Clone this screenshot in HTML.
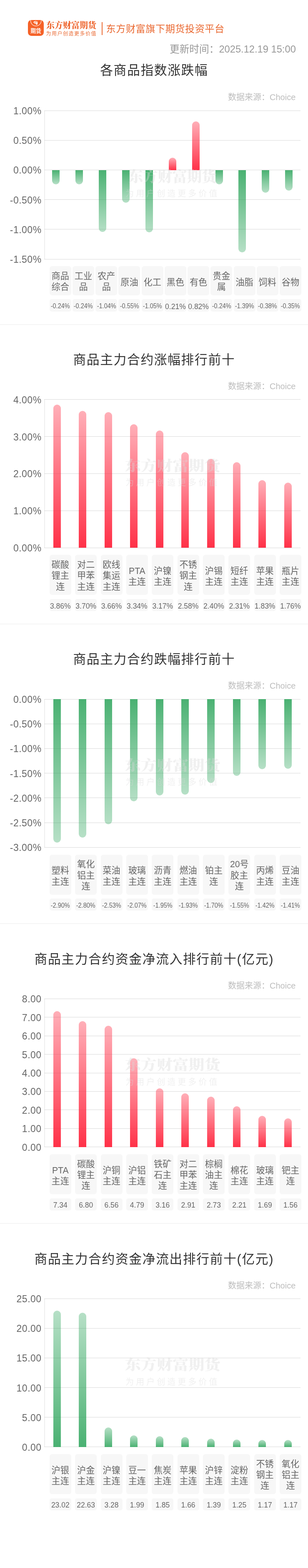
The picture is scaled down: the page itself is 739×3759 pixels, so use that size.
<!DOCTYPE html>
<html lang="zh-CN">
<head>
<meta charset="utf-8">
<title>东方财富期货 - 各商品指数涨跌幅</title>
<style>

html,body{margin:0;padding:0;background:#fff}
body{width:739px;height:3759px;overflow:hidden;font-family:"Liberation Sans","Noto Sans CJK SC",sans-serif;color:#333}
.page{position:relative;width:739px;height:3759px;overflow:hidden;background:#fff;filter:blur(.4px)}
.hv{font-family:"Liberation Serif","Noto Serif CJK SC",serif;font-weight:900}
.hdr,.sec{position:absolute;left:0;top:0;width:739px;height:0}
.icon{position:absolute}
.brand,.slogan,.platform,.upd{position:absolute;white-space:nowrap;line-height:1.2}
.brand,.slogan,.platform{color:#ea6a33}
.brand{color:#ee6a34}
.vbar{position:absolute;background:#ea6a33}
.upd{color:#999}
.title{position:absolute;left:0.3px;width:739px;margin:0;padding:0;text-align:center;font-weight:normal;line-height:1.2;color:#333;white-space:nowrap;letter-spacing:0.052em}
.src{position:absolute;white-space:nowrap;color:#bdbdbd;line-height:1.2}
.plot{position:absolute}
.yaxis{position:absolute;left:-0.4px;top:0;width:2px;height:100%;background:#eeeeee}
.grid{position:absolute;left:0;width:100%;height:1px;margin-top:-0.5px;background:#d9d9d9}
.bar{position:absolute;width:18.0px}
.bar.up{border-radius:9.0px 9.0px 0 0}
.bar.dn{border-radius:0 0 9.0px 9.0px}
.bar.up.r{background:linear-gradient(to top,rgba(255,38,62,.95),rgba(255,38,62,.37))}
.bar.dn.r{background:linear-gradient(to bottom,rgba(255,38,62,.95),rgba(255,38,62,.37))}
.bar.up.g{background:linear-gradient(to top,rgba(34,160,83,.82),rgba(34,160,83,.33))}
.bar.dn.g{background:linear-gradient(to bottom,rgba(34,160,83,.82),rgba(34,160,83,.33))}
.wm{position:absolute;left:0;width:100%;text-align:center;color:#d8d8d8;opacity:.38;line-height:1;white-space:nowrap}
.wm .sx{display:inline-block;transform:scale(1.11,1.0)}
.wm2{letter-spacing:0.25em}
.ylab{position:absolute;letter-spacing:.5px;right:639.4px;font-size:23.0px;line-height:28.0px;height:28.0px;color:#666;white-space:nowrap;text-align:right}
ul{list-style:none;margin:0;padding:0;position:absolute;left:0;width:739px}
li{position:absolute;top:0;width:52.0px;background:#f7f7f7;border-radius:6px;text-align:center;color:#666}
.names li{font-size:21.2px;line-height:26.3px;display:flex;align-items:center;justify-content:center}
.nmw{display:block;position:relative;top:2.3px}
.ln{display:block;white-space:nowrap;height:26.3px}
.vals li{height:29.4px;line-height:29.4px;white-space:nowrap;border-radius:5px}
.vals li span{display:inline-block;position:relative}
.sep{position:absolute;left:0;width:739px;height:2.0px;background:#f5f5f5}

</style>
</head>
<body>
<main class="page">
<div class="hdr">
<svg class="icon" style="left:66.8px;top:48px;width:38px;height:38px" viewBox="0 0 38 38" aria-hidden="true"><defs><clipPath id="icl"><rect x="0" y="0" width="38" height="38" rx="8.2" ry="8.2"/></clipPath></defs><rect x="0" y="0" width="38" height="38" rx="8.2" ry="8.2" fill="#f56228"/><g clip-path="url(#icl)"><circle cx="19.2" cy="1.6" r="12.7" fill="none" stroke="#fff" stroke-width="1.15" opacity="0.92"/></g><g fill="#fff"><path d="M20.6 2.0 Q16.0 2.4 13.1 4.7 Q12.8 5.9 14.6 7.0 Q16.6 3.9 20.6 2.0 Z"/><path d="M21.2 2.5 Q17.6 4.4 15.6 7.7 Q16.0 9.2 17.9 9.6 Q18.8 5.6 21.2 2.5 Z"/><path d="M21.9 2.5 Q19.7 5.8 19.0 10.0 Q20.2 11.6 22.0 11.4 Q23.7 8.6 23.0 5.4 Q22.7 3.6 21.9 2.5 Z"/></g><text transform="translate(6.2,30.6) scale(1,1.0625)" font-size="12.8" font-weight="900" fill="#fff" font-family="'Liberation Serif','Noto Serif CJK SC',serif">期货</text></svg>
<div class="brand hv" style="left:111px;top:48.6px;font-size:20px">东方财富期货</div>
<div class="slogan" style="left:110.6px;top:73.6px;font-size:12px;letter-spacing:0.125em">为用户创造更多价值</div>
<div class="vbar" style="left:244.2px;top:53px;width:1.7px;height:30.6px"></div>
<div class="platform" style="left:254.6px;top:56px;font-size:23.2px;letter-spacing:0.021em">东方财富旗下期货投资平台</div>
<div class="upd" style="right:29.2px;top:104.4px;font-size:23.7px">更新时间：<span class="updnum">2025.12.19 15:00</span></div>
</div>
<section class="sec" style="top:0">
<h2 class="title" style="top:151.1px;font-size:30.8px">各商品指数涨跌幅</h2>
<div class="src" style="right:29.7px;top:221.4px;font-size:20px">数据来源：<span class="choice">Choice</span></div>
<div class="plot" style="left:106.2px;top:265.4px;width:615.1px;height:355.7px">
<div class="yaxis"></div>
<div class="grid" style="top:0px"></div>
<div class="grid" style="top:71.14px"></div>
<div class="grid" style="top:142.28px"></div>
<div class="grid" style="top:213.42px"></div>
<div class="grid" style="top:284.56px"></div>
<div class="grid" style="top:355.7px"></div>
<div class="bar dn g" style="left:18.96px;top:142.28px;height:34.15px"></div>
<div class="bar dn g" style="left:74.88px;top:142.28px;height:34.15px"></div>
<div class="bar dn g" style="left:130.8px;top:142.28px;height:147.97px"></div>
<div class="bar dn g" style="left:186.71px;top:142.28px;height:78.25px"></div>
<div class="bar dn g" style="left:242.63px;top:142.28px;height:149.39px"></div>
<div class="bar up r" style="left:298.55px;top:112.4px;height:29.88px"></div>
<div class="bar up r" style="left:354.47px;top:25.61px;height:116.67px"></div>
<div class="bar dn g" style="left:410.39px;top:142.28px;height:34.15px"></div>
<div class="bar dn g" style="left:466.3px;top:142.28px;height:197.77px"></div>
<div class="bar dn g" style="left:522.22px;top:142.28px;height:54.07px"></div>
<div class="bar dn g" style="left:578.14px;top:142.28px;height:49.8px"></div>
<div class="wm hv" style="top:141.8px;font-size:35.2px">东方财富期货</div>
<div class="wm wm2" style="top:189px;font-size:20px">为用户创造更多价值</div>
</div>
<div class="ylab" style="top:252.2px">1.00%</div>
<div class="ylab" style="top:323.34px">0.50%</div>
<div class="ylab" style="top:394.48px">0.00%</div>
<div class="ylab" style="top:465.62px">-0.50%</div>
<div class="ylab" style="top:536.76px">-1.00%</div>
<div class="ylab" style="top:607.9px">-1.50%</div>
<ul class="names" style="top:638.1px;height:69.8px">
<li style="left:118.8px;height:69.8px"><span class="nmw" style="top:2.3px"><span class="ln">商品</span><span class="ln">综合</span></span></li>
<li style="left:174.02px;height:69.8px"><span class="nmw" style="top:2.3px"><span class="ln">工业</span><span class="ln">品</span></span></li>
<li style="left:229.24px;height:69.8px"><span class="nmw" style="top:2.3px"><span class="ln">农产</span><span class="ln">品</span></span></li>
<li style="left:284.46px;height:69.8px"><span class="nmw" style="top:4.1px"><span class="ln">原油</span></span></li>
<li style="left:339.68px;height:69.8px"><span class="nmw" style="top:4.1px"><span class="ln">化工</span></span></li>
<li style="left:394.9px;height:69.8px"><span class="nmw" style="top:4.1px"><span class="ln">黑色</span></span></li>
<li style="left:450.12px;height:69.8px"><span class="nmw" style="top:4.1px"><span class="ln">有色</span></span></li>
<li style="left:505.34px;height:69.8px"><span class="nmw" style="top:2.3px"><span class="ln">贵金</span><span class="ln">属</span></span></li>
<li style="left:560.56px;height:69.8px"><span class="nmw" style="top:4.1px"><span class="ln">油脂</span></span></li>
<li style="left:615.78px;height:69.8px"><span class="nmw" style="top:4.1px"><span class="ln">饲料</span></span></li>
<li style="left:671px;height:69.8px"><span class="nmw" style="top:4.1px"><span class="ln">谷物</span></span></li>
</ul>
<ul class="vals" style="top:717.3px">
<li style="left:118.8px;font-size:15.6px"><span style="top:1.8px;transform:scaleX(0.93)">-0.24%</span></li>
<li style="left:174.02px;font-size:15.6px"><span style="top:1.8px;transform:scaleX(0.93)">-0.24%</span></li>
<li style="left:229.24px;font-size:15.6px"><span style="top:1.8px;transform:scaleX(0.93)">-1.04%</span></li>
<li style="left:284.46px;font-size:15.6px"><span style="top:1.8px;transform:scaleX(0.93)">-0.55%</span></li>
<li style="left:339.68px;font-size:15.6px"><span style="top:1.8px;transform:scaleX(0.93)">-1.05%</span></li>
<li style="left:394.9px;font-size:17.5px"><span style="top:3.3px">0.21%</span></li>
<li style="left:450.12px;font-size:17.5px"><span style="top:3.3px">0.82%</span></li>
<li style="left:505.34px;font-size:15.6px"><span style="top:1.8px;transform:scaleX(0.93)">-0.24%</span></li>
<li style="left:560.56px;font-size:15.6px"><span style="top:1.8px;transform:scaleX(0.93)">-1.39%</span></li>
<li style="left:615.78px;font-size:15.6px"><span style="top:1.8px;transform:scaleX(0.93)">-0.38%</span></li>
<li style="left:671px;font-size:15.6px"><span style="top:1.8px;transform:scaleX(0.93)">-0.35%</span></li>
</ul>
<div class="sep" style="top:776.5px"></div>
</section>
<section class="sec" style="top:0">
<h2 class="title" style="top:845.1px;font-size:30.8px">商品主力合约涨幅排行前十</h2>
<div class="src" style="right:29.7px;top:913.9px;font-size:20px">数据来源：<span class="choice">Choice</span></div>
<div class="plot" style="left:106.2px;top:957.9px;width:615.1px;height:355.2px">
<div class="yaxis"></div>
<div class="grid" style="top:0px"></div>
<div class="grid" style="top:88.8px"></div>
<div class="grid" style="top:177.6px"></div>
<div class="grid" style="top:266.4px"></div>
<div class="grid" style="top:355.2px"></div>
<div class="bar up r" style="left:21.75px;top:12.43px;height:342.77px"></div>
<div class="bar up r" style="left:83.26px;top:26.64px;height:328.56px"></div>
<div class="bar up r" style="left:144.77px;top:30.19px;height:325.01px"></div>
<div class="bar up r" style="left:206.28px;top:58.61px;height:296.59px"></div>
<div class="bar up r" style="left:267.79px;top:73.7px;height:281.5px"></div>
<div class="bar up r" style="left:329.3px;top:126.1px;height:229.1px"></div>
<div class="bar up r" style="left:390.81px;top:142.08px;height:213.12px"></div>
<div class="bar up r" style="left:452.32px;top:150.07px;height:205.13px"></div>
<div class="bar up r" style="left:513.83px;top:192.7px;height:162.5px"></div>
<div class="bar up r" style="left:575.34px;top:198.91px;height:156.29px"></div>
<div class="wm hv" style="top:141.8px;font-size:34.4px"><span class="sx">东方财富期货</span></div>
<div class="wm wm2" style="top:189px;font-size:20px">为用户创造更多价值</div>
</div>
<div class="ylab" style="top:944.7px">4.00%</div>
<div class="ylab" style="top:1033.5px">3.00%</div>
<div class="ylab" style="top:1122.3px">2.00%</div>
<div class="ylab" style="top:1211.1px">1.00%</div>
<div class="ylab" style="top:1299.9px">0.00%</div>
<ul class="names" style="top:1330.3px;height:96.1px">
<li style="left:118.8px;height:96.1px"><span class="nmw" style="top:2.3px"><span class="ln">碳酸</span><span class="ln">锂主</span><span class="ln">连</span></span></li>
<li style="left:180.16px;height:96.1px"><span class="nmw" style="top:2.3px"><span class="ln">对二</span><span class="ln">甲苯</span><span class="ln">主连</span></span></li>
<li style="left:241.51px;height:96.1px"><span class="nmw" style="top:2.3px"><span class="ln">欧线</span><span class="ln">集运</span><span class="ln">主连</span></span></li>
<li style="left:302.87px;height:96.1px"><span class="nmw" style="top:4.1px"><span class="ln"><span>PTA</span></span><span class="ln">主连</span></span></li>
<li style="left:364.22px;height:96.1px"><span class="nmw" style="top:4.1px"><span class="ln">沪镍</span><span class="ln">主连</span></span></li>
<li style="left:425.58px;height:96.1px"><span class="nmw" style="top:2.3px"><span class="ln">不锈</span><span class="ln">钢主</span><span class="ln">连</span></span></li>
<li style="left:486.93px;height:96.1px"><span class="nmw" style="top:4.1px"><span class="ln">沪锡</span><span class="ln">主连</span></span></li>
<li style="left:548.29px;height:96.1px"><span class="nmw" style="top:4.1px"><span class="ln">短纤</span><span class="ln">主连</span></span></li>
<li style="left:609.64px;height:96.1px"><span class="nmw" style="top:4.1px"><span class="ln">苹果</span><span class="ln">主连</span></span></li>
<li style="left:671px;height:96.1px"><span class="nmw" style="top:4.1px"><span class="ln">瓶片</span><span class="ln">主连</span></span></li>
</ul>
<ul class="vals" style="top:1435.8px">
<li style="left:118.8px;font-size:17.5px"><span style="top:3.3px">3.86%</span></li>
<li style="left:180.16px;font-size:17.5px"><span style="top:3.3px">3.70%</span></li>
<li style="left:241.51px;font-size:17.5px"><span style="top:3.3px">3.66%</span></li>
<li style="left:302.87px;font-size:17.5px"><span style="top:3.3px">3.34%</span></li>
<li style="left:364.22px;font-size:17.5px"><span style="top:3.3px">3.17%</span></li>
<li style="left:425.58px;font-size:17.5px"><span style="top:3.3px">2.58%</span></li>
<li style="left:486.93px;font-size:17.5px"><span style="top:3.3px">2.40%</span></li>
<li style="left:548.29px;font-size:17.5px"><span style="top:3.3px">2.31%</span></li>
<li style="left:609.64px;font-size:17.5px"><span style="top:3.3px">1.83%</span></li>
<li style="left:671px;font-size:17.5px"><span style="top:3.3px">1.76%</span></li>
</ul>
<div class="sep" style="top:1495px"></div>
</section>
<section class="sec" style="top:0">
<h2 class="title" style="top:1563.4px;font-size:30.8px">商品主力合约跌幅排行前十</h2>
<div class="src" style="right:29.7px;top:1632.2px;font-size:20px">数据来源：<span class="choice">Choice</span></div>
<div class="plot" style="left:106.2px;top:1676.2px;width:615.1px;height:355.2px">
<div class="yaxis"></div>
<div class="grid" style="top:0px"></div>
<div class="grid" style="top:59.2px"></div>
<div class="grid" style="top:118.4px"></div>
<div class="grid" style="top:177.6px"></div>
<div class="grid" style="top:236.8px"></div>
<div class="grid" style="top:296px"></div>
<div class="grid" style="top:355.2px"></div>
<div class="bar dn g" style="left:21.75px;top:0px;height:343.36px"></div>
<div class="bar dn g" style="left:83.26px;top:0px;height:331.52px"></div>
<div class="bar dn g" style="left:144.77px;top:0px;height:299.55px"></div>
<div class="bar dn g" style="left:206.28px;top:0px;height:245.09px"></div>
<div class="bar dn g" style="left:267.79px;top:0px;height:230.88px"></div>
<div class="bar dn g" style="left:329.3px;top:0px;height:228.51px"></div>
<div class="bar dn g" style="left:390.81px;top:0px;height:201.28px"></div>
<div class="bar dn g" style="left:452.32px;top:0px;height:183.52px"></div>
<div class="bar dn g" style="left:513.83px;top:0px;height:168.13px"></div>
<div class="bar dn g" style="left:575.34px;top:0px;height:166.94px"></div>
<div class="wm hv" style="top:141.8px;font-size:34.4px"><span class="sx">东方财富期货</span></div>
<div class="wm wm2" style="top:189px;font-size:20px">为用户创造更多价值</div>
</div>
<div class="ylab" style="top:1663px">0.00%</div>
<div class="ylab" style="top:1722.2px">-0.50%</div>
<div class="ylab" style="top:1781.4px">-1.00%</div>
<div class="ylab" style="top:1840.6px">-1.50%</div>
<div class="ylab" style="top:1899.8px">-2.00%</div>
<div class="ylab" style="top:1959px">-2.50%</div>
<div class="ylab" style="top:2018.2px">-3.00%</div>
<ul class="names" style="top:2048.6px;height:96.1px">
<li style="left:118.8px;height:96.1px"><span class="nmw" style="top:4.1px"><span class="ln">塑料</span><span class="ln">主连</span></span></li>
<li style="left:180.16px;height:96.1px"><span class="nmw" style="top:2.3px"><span class="ln">氧化</span><span class="ln">铝主</span><span class="ln">连</span></span></li>
<li style="left:241.51px;height:96.1px"><span class="nmw" style="top:4.1px"><span class="ln">菜油</span><span class="ln">主连</span></span></li>
<li style="left:302.87px;height:96.1px"><span class="nmw" style="top:4.1px"><span class="ln">玻璃</span><span class="ln">主连</span></span></li>
<li style="left:364.22px;height:96.1px"><span class="nmw" style="top:4.1px"><span class="ln">沥青</span><span class="ln">主连</span></span></li>
<li style="left:425.58px;height:96.1px"><span class="nmw" style="top:4.1px"><span class="ln">燃油</span><span class="ln">主连</span></span></li>
<li style="left:486.93px;height:96.1px"><span class="nmw" style="top:4.1px"><span class="ln">铂主</span><span class="ln">连</span></span></li>
<li style="left:548.29px;height:96.1px"><span class="nmw" style="top:2.3px"><span class="ln"><span>20</span>号</span><span class="ln">胶主</span><span class="ln">连</span></span></li>
<li style="left:609.64px;height:96.1px"><span class="nmw" style="top:4.1px"><span class="ln">丙烯</span><span class="ln">主连</span></span></li>
<li style="left:671px;height:96.1px"><span class="nmw" style="top:4.1px"><span class="ln">豆油</span><span class="ln">主连</span></span></li>
</ul>
<ul class="vals" style="top:2154.1px">
<li style="left:118.8px;font-size:15.6px"><span style="top:1.8px;transform:scaleX(0.93)">-2.90%</span></li>
<li style="left:180.16px;font-size:15.6px"><span style="top:1.8px;transform:scaleX(0.93)">-2.80%</span></li>
<li style="left:241.51px;font-size:15.6px"><span style="top:1.8px;transform:scaleX(0.93)">-2.53%</span></li>
<li style="left:302.87px;font-size:15.6px"><span style="top:1.8px;transform:scaleX(0.93)">-2.07%</span></li>
<li style="left:364.22px;font-size:15.6px"><span style="top:1.8px;transform:scaleX(0.93)">-1.95%</span></li>
<li style="left:425.58px;font-size:15.6px"><span style="top:1.8px;transform:scaleX(0.93)">-1.93%</span></li>
<li style="left:486.93px;font-size:15.6px"><span style="top:1.8px;transform:scaleX(0.93)">-1.70%</span></li>
<li style="left:548.29px;font-size:15.6px"><span style="top:1.8px;transform:scaleX(0.93)">-1.55%</span></li>
<li style="left:609.64px;font-size:15.6px"><span style="top:1.8px;transform:scaleX(0.93)">-1.42%</span></li>
<li style="left:671px;font-size:15.6px"><span style="top:1.8px;transform:scaleX(0.93)">-1.41%</span></li>
</ul>
<div class="sep" style="top:2213.3px"></div>
</section>
<section class="sec" style="top:0">
<h2 class="title" style="top:2281.8px;font-size:30.8px">商品主力合约资金净流入排行前十(亿元)</h2>
<div class="src" style="right:29.7px;top:2350.6px;font-size:20px">数据来源：<span class="choice">Choice</span></div>
<div class="plot" style="left:106.2px;top:2394.6px;width:615.1px;height:355.2px">
<div class="yaxis"></div>
<div class="grid" style="top:0px"></div>
<div class="grid" style="top:44.4px"></div>
<div class="grid" style="top:88.8px"></div>
<div class="grid" style="top:133.2px"></div>
<div class="grid" style="top:177.6px"></div>
<div class="grid" style="top:222px"></div>
<div class="grid" style="top:266.4px"></div>
<div class="grid" style="top:310.8px"></div>
<div class="grid" style="top:355.2px"></div>
<div class="bar up r" style="left:21.75px;top:29.3px;height:325.9px"></div>
<div class="bar up r" style="left:83.26px;top:53.28px;height:301.92px"></div>
<div class="bar up r" style="left:144.77px;top:63.94px;height:291.26px"></div>
<div class="bar up r" style="left:206.28px;top:142.52px;height:212.68px"></div>
<div class="bar up r" style="left:267.79px;top:214.9px;height:140.3px"></div>
<div class="bar up r" style="left:329.3px;top:226px;height:129.2px"></div>
<div class="bar up r" style="left:390.81px;top:233.99px;height:121.21px"></div>
<div class="bar up r" style="left:452.32px;top:257.08px;height:98.12px"></div>
<div class="bar up r" style="left:513.83px;top:280.16px;height:75.04px"></div>
<div class="bar up r" style="left:575.34px;top:285.94px;height:69.26px"></div>
<div class="wm hv" style="top:141.8px;font-size:34.4px"><span class="sx">东方财富期货</span></div>
<div class="wm wm2" style="top:189px;font-size:20px">为用户创造更多价值</div>
</div>
<div class="ylab" style="top:2381.4px">8.00</div>
<div class="ylab" style="top:2425.8px">7.00</div>
<div class="ylab" style="top:2470.2px">6.00</div>
<div class="ylab" style="top:2514.6px">5.00</div>
<div class="ylab" style="top:2559px">4.00</div>
<div class="ylab" style="top:2603.4px">3.00</div>
<div class="ylab" style="top:2647.8px">2.00</div>
<div class="ylab" style="top:2692.2px">1.00</div>
<div class="ylab" style="top:2736.6px">0.00</div>
<ul class="names" style="top:2767px;height:96.1px">
<li style="left:118.8px;height:96.1px"><span class="nmw" style="top:4.1px"><span class="ln"><span>PTA</span></span><span class="ln">主连</span></span></li>
<li style="left:180.16px;height:96.1px"><span class="nmw" style="top:2.3px"><span class="ln">碳酸</span><span class="ln">锂主</span><span class="ln">连</span></span></li>
<li style="left:241.51px;height:96.1px"><span class="nmw" style="top:4.1px"><span class="ln">沪铜</span><span class="ln">主连</span></span></li>
<li style="left:302.87px;height:96.1px"><span class="nmw" style="top:4.1px"><span class="ln">沪铝</span><span class="ln">主连</span></span></li>
<li style="left:364.22px;height:96.1px"><span class="nmw" style="top:2.3px"><span class="ln">铁矿</span><span class="ln">石主</span><span class="ln">连</span></span></li>
<li style="left:425.58px;height:96.1px"><span class="nmw" style="top:2.3px"><span class="ln">对二</span><span class="ln">甲苯</span><span class="ln">主连</span></span></li>
<li style="left:486.93px;height:96.1px"><span class="nmw" style="top:2.3px"><span class="ln">棕榈</span><span class="ln">油主</span><span class="ln">连</span></span></li>
<li style="left:548.29px;height:96.1px"><span class="nmw" style="top:4.1px"><span class="ln">棉花</span><span class="ln">主连</span></span></li>
<li style="left:609.64px;height:96.1px"><span class="nmw" style="top:4.1px"><span class="ln">玻璃</span><span class="ln">主连</span></span></li>
<li style="left:671px;height:96.1px"><span class="nmw" style="top:4.1px"><span class="ln">钯主</span><span class="ln">连</span></span></li>
</ul>
<ul class="vals" style="top:2872.5px">
<li style="left:118.8px;font-size:17.5px"><span style="top:2.8px">7.34</span></li>
<li style="left:180.16px;font-size:17.5px"><span style="top:2.8px">6.80</span></li>
<li style="left:241.51px;font-size:17.5px"><span style="top:2.8px">6.56</span></li>
<li style="left:302.87px;font-size:17.5px"><span style="top:2.8px">4.79</span></li>
<li style="left:364.22px;font-size:17.5px"><span style="top:2.8px">3.16</span></li>
<li style="left:425.58px;font-size:17.5px"><span style="top:2.8px">2.91</span></li>
<li style="left:486.93px;font-size:17.5px"><span style="top:2.8px">2.73</span></li>
<li style="left:548.29px;font-size:17.5px"><span style="top:2.8px">2.21</span></li>
<li style="left:609.64px;font-size:17.5px"><span style="top:2.8px">1.69</span></li>
<li style="left:671px;font-size:17.5px"><span style="top:2.8px">1.56</span></li>
</ul>
<div class="sep" style="top:2931.7px"></div>
</section>
<section class="sec" style="top:0">
<h2 class="title" style="top:3000.8px;font-size:30.8px">商品主力合约资金净流出排行前十(亿元)</h2>
<div class="src" style="right:29.7px;top:3069.6px;font-size:20px">数据来源：<span class="choice">Choice</span></div>
<div class="plot" style="left:106.2px;top:3113.6px;width:615.1px;height:355.2px">
<div class="yaxis"></div>
<div class="grid" style="top:0px"></div>
<div class="grid" style="top:71.04px"></div>
<div class="grid" style="top:142.08px"></div>
<div class="grid" style="top:213.12px"></div>
<div class="grid" style="top:284.16px"></div>
<div class="grid" style="top:355.2px"></div>
<div class="bar up g" style="left:21.75px;top:28.13px;height:327.07px"></div>
<div class="bar up g" style="left:83.26px;top:33.67px;height:321.53px"></div>
<div class="bar up g" style="left:144.77px;top:308.6px;height:46.6px"></div>
<div class="bar up g" style="left:206.28px;top:326.93px;height:28.27px"></div>
<div class="bar up g" style="left:267.79px;top:328.92px;height:26.28px"></div>
<div class="bar up g" style="left:329.3px;top:331.61px;height:23.59px"></div>
<div class="bar up g" style="left:390.81px;top:335.45px;height:19.75px"></div>
<div class="bar up g" style="left:452.32px;top:337.44px;height:17.76px"></div>
<div class="bar up g" style="left:513.83px;top:338.58px;height:16.62px"></div>
<div class="bar up g" style="left:575.34px;top:338.58px;height:16.62px"></div>
<div class="wm hv" style="top:141.8px;font-size:34.4px"><span class="sx">东方财富期货</span></div>
<div class="wm wm2" style="top:189px;font-size:20px">为用户创造更多价值</div>
</div>
<div class="ylab" style="top:3100.4px">25.00</div>
<div class="ylab" style="top:3171.44px">20.00</div>
<div class="ylab" style="top:3242.48px">15.00</div>
<div class="ylab" style="top:3313.52px">10.00</div>
<div class="ylab" style="top:3384.56px">5.00</div>
<div class="ylab" style="top:3455.6px">0.00</div>
<ul class="names" style="top:3486px;height:96.1px">
<li style="left:118.8px;height:96.1px"><span class="nmw" style="top:4.1px"><span class="ln">沪银</span><span class="ln">主连</span></span></li>
<li style="left:180.16px;height:96.1px"><span class="nmw" style="top:4.1px"><span class="ln">沪金</span><span class="ln">主连</span></span></li>
<li style="left:241.51px;height:96.1px"><span class="nmw" style="top:4.1px"><span class="ln">沪镍</span><span class="ln">主连</span></span></li>
<li style="left:302.87px;height:96.1px"><span class="nmw" style="top:4.1px"><span class="ln">豆一</span><span class="ln">主连</span></span></li>
<li style="left:364.22px;height:96.1px"><span class="nmw" style="top:4.1px"><span class="ln">焦炭</span><span class="ln">主连</span></span></li>
<li style="left:425.58px;height:96.1px"><span class="nmw" style="top:4.1px"><span class="ln">苹果</span><span class="ln">主连</span></span></li>
<li style="left:486.93px;height:96.1px"><span class="nmw" style="top:4.1px"><span class="ln">沪锌</span><span class="ln">主连</span></span></li>
<li style="left:548.29px;height:96.1px"><span class="nmw" style="top:4.1px"><span class="ln">淀粉</span><span class="ln">主连</span></span></li>
<li style="left:609.64px;height:96.1px"><span class="nmw" style="top:2.3px"><span class="ln">不锈</span><span class="ln">钢主</span><span class="ln">连</span></span></li>
<li style="left:671px;height:96.1px"><span class="nmw" style="top:2.3px"><span class="ln">氧化</span><span class="ln">铝主</span><span class="ln">连</span></span></li>
</ul>
<ul class="vals" style="top:3591.5px">
<li style="left:118.8px;font-size:17.5px"><span style="top:2.8px">23.02</span></li>
<li style="left:180.16px;font-size:17.5px"><span style="top:2.8px">22.63</span></li>
<li style="left:241.51px;font-size:17.5px"><span style="top:2.8px">3.28</span></li>
<li style="left:302.87px;font-size:17.5px"><span style="top:2.8px">1.99</span></li>
<li style="left:364.22px;font-size:17.5px"><span style="top:2.8px">1.85</span></li>
<li style="left:425.58px;font-size:17.5px"><span style="top:2.8px">1.66</span></li>
<li style="left:486.93px;font-size:17.5px"><span style="top:2.8px">1.39</span></li>
<li style="left:548.29px;font-size:17.5px"><span style="top:2.8px">1.25</span></li>
<li style="left:609.64px;font-size:17.5px"><span style="top:2.8px">1.17</span></li>
<li style="left:671px;font-size:17.5px"><span style="top:2.8px">1.17</span></li>
</ul>
</section>
</main>
</body>
</html>
